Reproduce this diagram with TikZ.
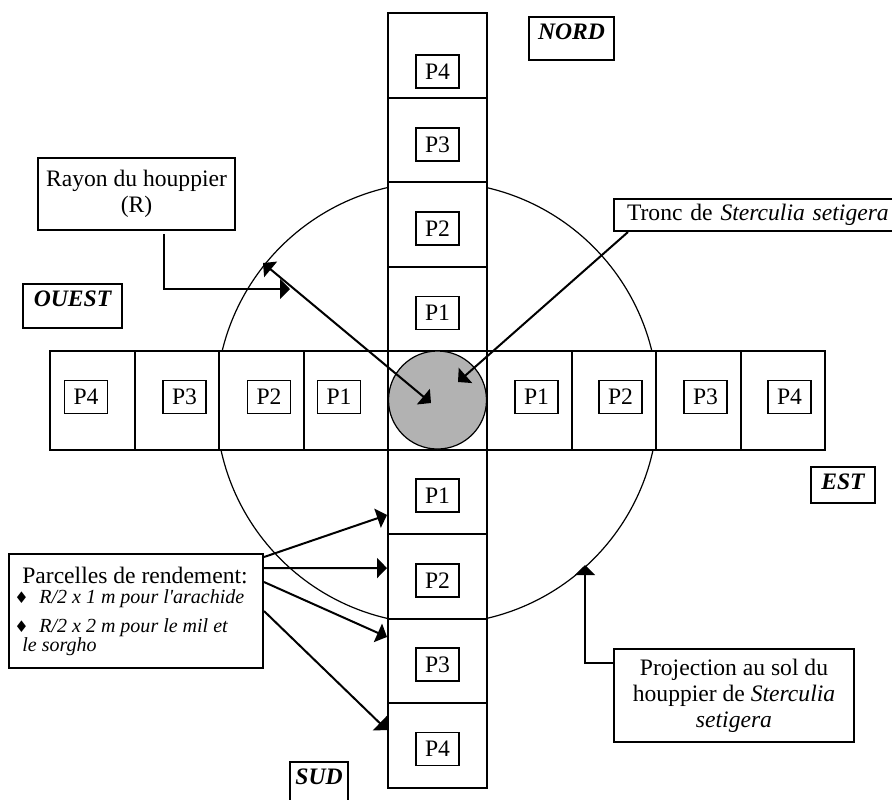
\documentclass[tikz,border=0pt]{standalone}
\usepackage{fontspec}
\setmainfont{Liberation Serif}
\newfontfamily\dmfont{DejaVu Sans}
\usetikzlibrary{arrows.meta,positioning}
\newcommand{\dm}{\makebox[12.5pt][l]{\dmfont\fontsize{8}{8}\selectfont ♦}}
\newcommand{\apos}{{\addfontfeature{Ligatures=TeXOff}'}}

\begin{document}
\begin{tikzpicture}[x=0.5pt,y=-0.5pt,font=\fontsize{11.8}{13}\selectfont,
  cellv/.style={draw,fill=white,line width=1pt,inner sep=0,minimum width=49.5pt,minimum height=42.25pt},
  cellh/.style={draw,fill=white,line width=1pt,inner sep=0,minimum width=42.25pt,minimum height=49.25pt},
  plab/.style={draw,line width=0.9pt,inner sep=0,minimum width=21.5pt,minimum height=16.5pt},
  dirbox/.style={draw,line width=1pt,anchor=north west,font=\fontsize{11.8}{13}\selectfont\bfseries\itshape,inner xsep=0,inner ysep=2pt,text height=9pt},
  txtbox/.style={draw,line width=1pt,anchor=north west,inner sep=2pt},
  arr/.style={-{Triangle[length=5pt,width=10pt]},line width=1pt}]
\useasboundingbox (0,0) rectangle (892,799);
% projection du houppier
\coordinate (O) at (437,403);
\draw[line width=0.6pt] (O) circle [radius=221];
% parcelles
\node[cellv,minimum height=49.25pt] (C) at (437.5,400.25) {};
\foreach \i in {1,...,4}{
  \node[cellv] (N\i) at (437.5,{351-84.5*\i+42.25}) {};
  \node[cellv] (S\i) at (437.5,{449.5+84.5*\i-42.25}) {};
  \node[cellh] (W\i) at ({388-84.5*\i+42.25},400.25) {};
  \node[cellh] (E\i) at ({487+84.5*\i-42.25},400.25) {};
}
\foreach \i/\yy in {1/313,2/228.5,3/144.5,4/71.5} \node[plab] (LN\i) at (437.5,\yy) {P\i};
\foreach \i/\yy in {1/495.5,2/580.5,3/664.5,4/749} \node[plab] (LS\i) at (437.5,\yy) {P\i};
\foreach \i/\xx in {1/339,2/269,3/184.5,4/86} \node[plab] (LW\i) at (\xx,397) {P\i};
\foreach \i/\xx in {1/536.5,2/620.5,3/705.5,4/789.5} \node[plab] (LE\i) at (\xx,397) {P\i};
% tronc
\node[circle,draw,fill=black!30,line width=0.6pt,minimum size=49pt,inner sep=0] (T) at (437.5,400) {};
% orientation
\node[dirbox,minimum width=42.5pt,text depth=8.5pt] (NORD) at (528,16) {NORD};
\node[dirbox,minimum width=49.5pt,text depth=9pt] (OUEST) at (22,283) {OUEST};
\node[dirbox,minimum width=29pt,text depth=9pt] (SUD) at (289,761) {SUD};
\node[dirbox,minimum width=32pt,text depth=5pt] (EST) at (810,466) {EST};
% legendes
\node[txtbox,align=center,minimum width=98.5pt,minimum height=36pt] (RB) at (37,157) {Rayon du houppier\\(R)};
\node[txtbox,text width=140pt,align=left,inner xsep=6.5pt,minimum height=16pt] (TR) at (613,198) {Tronc de \textit{Sterculia setigera}};
\node[txtbox,align=center,minimum width=120pt,minimum height=46.5pt] (PJ) at (613,648) {Projection au sol du\\houppier de \textit{Sterculia}\\\textit{setigera}};
\node[txtbox,minimum width=127pt,minimum height=57pt] (PR) at (8,553) {};
\node[anchor=base,inner sep=0] (PRt) at (135,583) {Parcelles de rendement:};
\begin{scope}[every node/.style={anchor=base west,inner sep=0,font=\fontsize{10}{12}\selectfont\itshape}]
\node (PRa) at (14,603) {\dm R/2 x 1 m pour l\apos arachide};
\node (PRb) at (14,632) {\dm R/2 x 2 m pour le mil et};
\node (PRc) at (22,651) {le sorgho};
\end{scope}
% fleches
\coordinate (rayT) at (290,289);
\draw[arr] ([xshift=13.75pt,yshift=-1.5pt]RB.south) |- (rayT);
\coordinate (arcR) at (263,263);
\coordinate (ctr) at (431,403);
\draw[{Triangle[length=5pt,width=10pt]}-{Triangle[length=5pt,width=10pt]},line width=1pt] (arcR) -- (ctr);
\coordinate (trT) at (458,382);
\draw[arr] ([xshift=7.5pt]TR.south west) -- (trT);
\draw[arr] ([yshift=-2pt]PR.north east) -- ([yshift=-11.6pt]S1.west);
\draw[arr] ([yshift=-7.5pt]PR.north east) -- ([yshift=4.1pt]S2.west);
\draw[arr] ([yshift=-14.5pt]PR.north east) -- ([yshift=11.9pt]S3.west);
\draw[arr] ([yshift=-29pt]PR.north east) -- ([yshift=7.6pt]S4.west);
\coordinate (pjT) at (585,565);
\draw[arr] ([yshift=16.25pt]PJ.west) -| (pjT);
\end{tikzpicture}
\end{document}
